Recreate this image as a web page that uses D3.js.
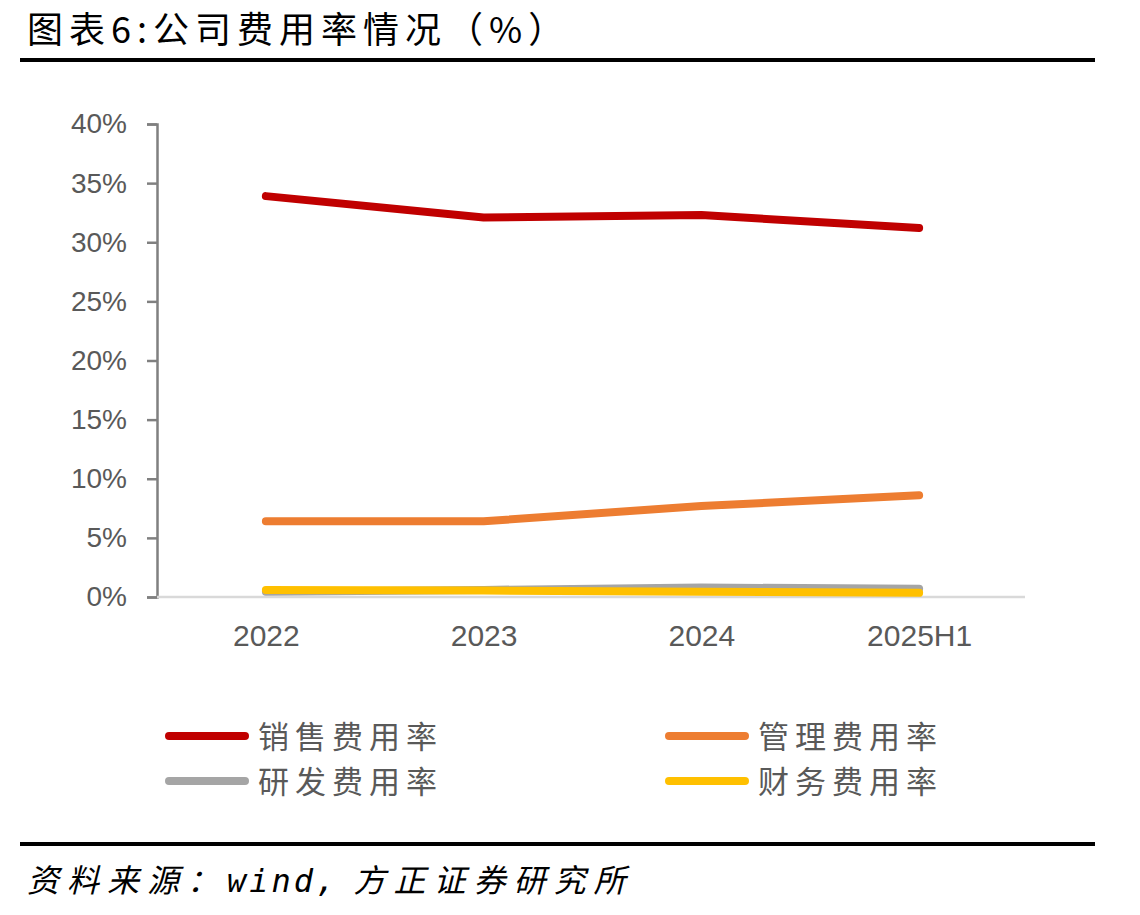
<!DOCTYPE html>
<html>
<head>
<meta charset="utf-8">
<script src="https://cdn.jsdelivr.net/npm/d3@7"></script>
<style>
	body { margin: 0; background: #fff; }
	svg { display: block; }
</style>
</head>
<body>
<svg width="1140" height="915"></svg>
<script>
const categories = ["2022", "2023", "2024", "2025H1"]
const seriesNames = ["销售费用率", "管理费用率", "研发费用率", "财务费用率"]
const sales = [33.9, 32.1, 32.3, 31.2]
const admin = [6.4, 6.4, 7.7, 8.6]
const rnd = [0.45, 0.6, 0.8, 0.7]
const finance = [0.6, 0.55, 0.45, 0.35]
const yTicks = [0, 5, 10, 15, 20, 25, 30, 35, 40]
const colors = ["#C00000", "#ED7D31", "#A5A5A5", "#FFC000"]

const svg = d3.select("svg")
const cjk = "'Noto Sans CJK SC', sans-serif"

// title and rules
svg.append("text")
	.attr("x", 27).attr("y", 43)
	.style("font-family", cjk).style("font-size", "36px").style("letter-spacing", "6px").attr("fill", "#000")
	.text("图表6:公司费用率情况（%）")
svg.append("line").attr("x1", 20).attr("x2", 1095).attr("y1", 60).attr("y2", 60)
	.attr("stroke", "#000").attr("stroke-width", 4)
svg.append("line").attr("x1", 20).attr("x2", 1095).attr("y1", 844).attr("y2", 844)
	.attr("stroke", "#000").attr("stroke-width", 4)
const foot = svg.append("text")
	.attr("x", 27).attr("y", 892)
	.style("font-family", cjk).style("font-size", "32px").style("font-style", "italic")
	.style("letter-spacing", "8px").attr("fill", "#000")
foot.append("tspan").text("资料来源：")
foot.append("tspan").style("font-family", "'DejaVu Sans Mono', monospace")
	.style("letter-spacing", "3px").text("wind,")
foot.append("tspan").text(" 方正证券研究所")

// scales
const x = d3.scalePoint().domain(categories).range([157, 1028]).padding(0.5)
const y = d3.scaleLinear().domain([0, 40]).range([597, 124])

// y axis
const yAxis = svg.append("g")
	.attr("transform", "translate(157,0)")
	.call(d3.axisLeft(y).tickValues(yTicks).tickSize(10).tickPadding(20).tickFormat(d => d + "%"))
yAxis.selectAll("path, line").attr("stroke", "#808080").attr("stroke-width", 2.5)
yAxis.selectAll("text").attr("fill", "#595959")
	.style("font-family", "'Liberation Sans', Arial, sans-serif").style("font-size", "28px")

// x axis
const xAxis = svg.append("g")
	.attr("transform", "translate(0,597)")
	.call(d3.axisBottom(x).tickSize(0).tickPadding(28))
xAxis.select("path").attr("stroke", "#D9D9D9").attr("stroke-width", 2.5)
	.attr("d", "M157,0H1025")
xAxis.selectAll("text").attr("fill", "#595959")
	.style("font-family", "'Liberation Sans', Arial, sans-serif").style("font-size", "30px")

// lines
const data = [sales, admin, rnd, finance]
const line = d3.line().x((d, i) => x(categories[i])).y(d => y(d))
data.forEach((vals, k) => {
	svg.append("path")
		.datum(vals)
		.attr("d", line)
		.attr("fill", "none")
		.attr("stroke", colors[k])
		.attr("stroke-width", 8)
		.attr("stroke-linecap", "round")
		.attr("stroke-linejoin", "round")
})

// legend
const legendPos = [[165, 736], [665, 736], [165, 781], [665, 781]]
seriesNames.forEach((name, k) => {
	const [lx, ly] = legendPos[k]
	svg.append("line")
		.attr("x1", lx + 4).attr("x2", lx + 80).attr("y1", ly).attr("y2", ly)
		.attr("stroke", colors[k]).attr("stroke-width", 8).attr("stroke-linecap", "round")
	svg.append("text")
		.attr("x", lx + 93).attr("y", ly + 12)
		.style("font-family", cjk).style("font-size", "31px").style("letter-spacing", "6px")
		.attr("fill", "#595959")
		.text(name)
})
</script>
</body>
</html>
